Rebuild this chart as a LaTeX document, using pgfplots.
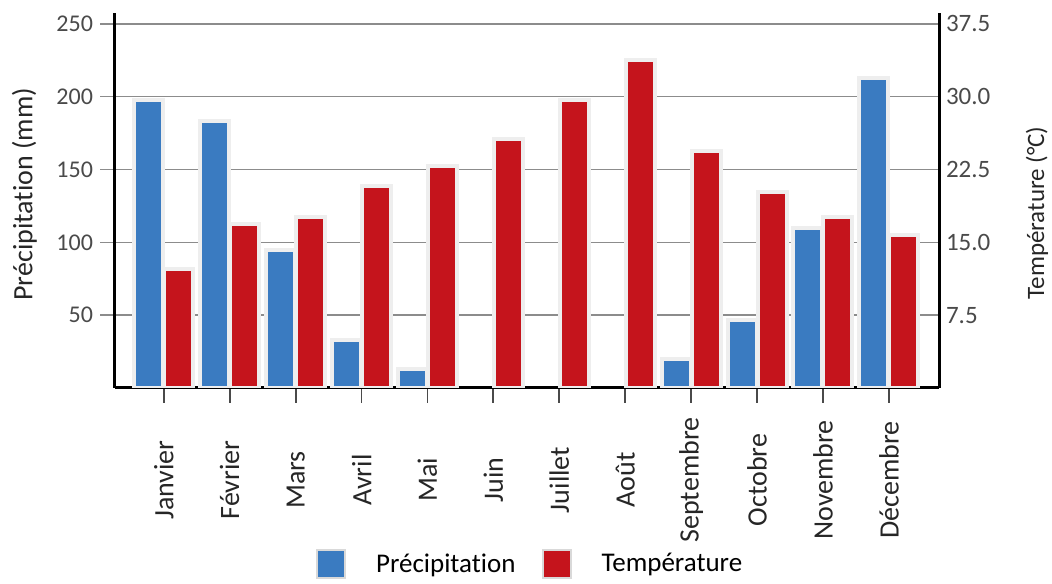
\documentclass[border=0pt]{standalone}
\usepackage{fontspec}
\setmainfont{Carlito}[Ligatures=NoCommon]
\usepackage{pgfplots}
\usepackage{pgfplotstable}
\pgfplotsset{compat=1.18}

\definecolor{precip}{HTML}{3A7BC1}
\definecolor{temp}{HTML}{C5141C}
\definecolor{gridgray}{HTML}{8C8C8C}
\definecolor{ticktext}{HTML}{4A4A4A}
\definecolor{halo}{HTML}{EEEEEE}

% precipitation (mm); Juin, Juillet, Aout have none
\pgfplotstableread{
idx precip
0 198
1 183
2 95
3 33
4 13
8 20
9 47
10 110
11 213
}\precipdata

% temperature (degC)
\pgfplotstableread{
idx temp
0 12.3
1 16.9
2 17.6
3 20.8
4 22.9
5 25.6
6 29.7
7 33.8
8 24.4
9 20.2
10 17.6
11 15.8
}\tempdata

\pgfplotsset{
  climat/.style={
    set layers,
    scale only axis, width=412pt, height=187.5pt,
    xmin=-0.74, xmax=11.76, ymin=0,
    axis line style={line width=1.5pt, black, -, /pgfplots/on layer=axis foreground},
    /pgf/number format/assume math mode=true,
    ybar, bar width=14.5pt,
  },
}

\begin{document}
\begin{tikzpicture}
\begin{axis}[
  climat, name=ax,
  ymax=257.5,
  axis x line*=bottom, axis y line*=left,
  xtick={0,...,11},
  xticklabels={Janvier,Février,Mars,Avril,Mai,Juin,Juillet,Août,Septembre,Octobre,Novembre,Décembre},
  x tick label style={yshift=-38.5pt, rotate=90, anchor=center,
    font=\fontsize{14}{16}\selectfont, text=black!85},
  ytick={50,100,150,200,250},
  ymajorgrids, grid style={gridgray, line width=0.7pt},
  tick align=outside, major tick length=7.5pt,
  y tick style={gridgray, line width=0.7pt},
  x tick style={ticktext, line width=0.9pt},
  y tick label style={font=\fontsize{12}{14}\selectfont, text=ticktext},
  ylabel={Précipitation (mm)},
  ylabel style={at={(axis description cs:-0.11,0.517)}, anchor=center,
    font=\fontsize{14}{16}\selectfont, text=black!85},
]
\addplot[fill=precip, draw=halo, line width=2pt, bar shift=-7.5pt]
  table[x=idx, y=precip] {\precipdata};
\end{axis}

\begin{axis}[
  climat,
  ymax=38.625,
  axis x line=none, axis y line*=right,
  ytick={7.5,15,22.5,30,37.5},
  y tick style={draw=none},
  y tick label style={font=\fontsize{12.5}{14}\selectfont, text=ticktext,
    /pgf/number format/.cd, fixed, fixed zerofill, precision=1},
  ylabel={Température (°C)},
  ylabel style={at={(axis description cs:1.119,0.467)}, anchor=center,
    font=\fontsize{12.5}{14}\selectfont, text=black!85},
  legend style={at={(0.505,-0.47)}, anchor=center, draw=none, fill=none,
    legend columns=-1, font=\fontsize{13.5}{15}\selectfont,
    /tikz/every odd column/.append style={column sep=13pt},
    /tikz/every even column/.append style={column sep=11pt}},
]
\addplot[fill=temp, draw=halo, line width=2pt, bar shift=7.5pt, forget plot]
  table[x=idx, y=temp] {\tempdata};
\addlegendimage{legend image code/.code={\draw[fill=precip, draw=gray!30, line width=1pt] (0pt,-7pt) rectangle (14pt,7pt);}}
\addlegendentry{Précipitation}
\addlegendimage{legend image code/.code={\draw[fill=temp, draw=gray!30, line width=1pt] (0pt,-7pt) rectangle (14pt,7pt);}}
\addlegendentry{Température}
\end{axis}

\pgfresetboundingbox
\path ([shift={(-57.5pt,-98pt)}]ax.south west) rectangle ([shift={(56.5pt,6.5pt)}]ax.north east);
\end{tikzpicture}
\end{document}
